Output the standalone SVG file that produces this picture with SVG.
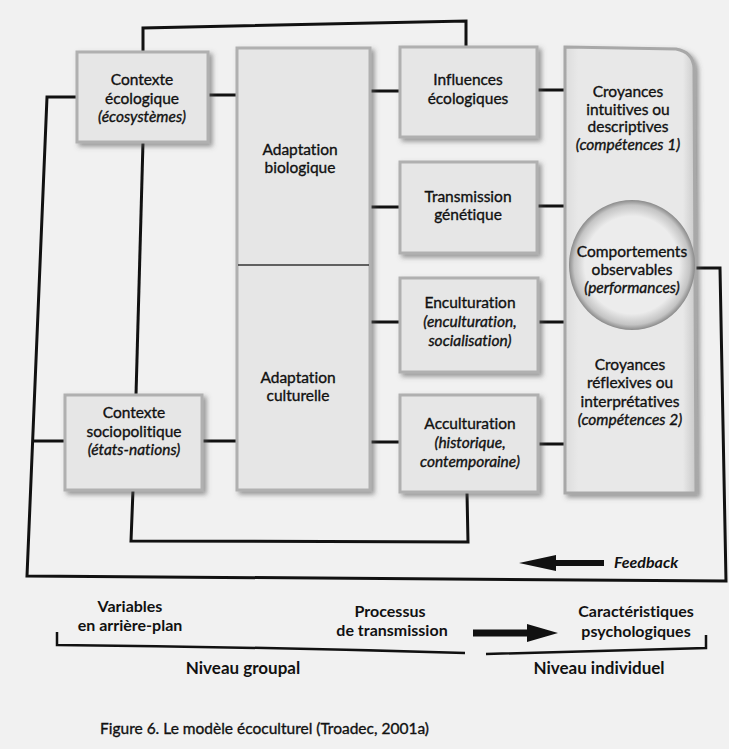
<svg xmlns="http://www.w3.org/2000/svg" width="729" height="749" viewBox="0 0 729 749">
<defs>
<filter id="sh" x="-10%" y="-10%" width="125%" height="125%">
<feGaussianBlur in="SourceAlpha" stdDeviation="2.5"/>
<feOffset dx="3" dy="3" result="b"/>
<feFlood flood-color="#555" flood-opacity="0.6"/>
<feComposite in2="b" operator="in" result="s"/>
<feMerge><feMergeNode in="s"/><feMergeNode in="SourceGraphic"/></feMerge>
</filter>
<radialGradient id="cg" cx="0.5" cy="0.5" r="0.5">
<stop offset="0.75" stop-color="#ececec"/>
<stop offset="0.92" stop-color="#c4c4c4"/>
<stop offset="1" stop-color="#8a8a8a"/>
</radialGradient>
<linearGradient id="colg" x1="0" y1="0" x2="1" y2="0">
<stop offset="0" stop-color="#dcdcdc"/>
<stop offset="0.1" stop-color="#e8e8e8"/>
<stop offset="0.9" stop-color="#e8e8e8"/>
<stop offset="1" stop-color="#c8c8c8"/>
</linearGradient>
</defs>
<style>
.box{fill:#e6e6e6;stroke:#b0b0b0;stroke-width:3;filter:url(#sh)}
.ln{fill:none;stroke:#111;stroke-width:3;stroke-linejoin:miter}
.br{fill:none;stroke:#111;stroke-width:2.5}
text{font-family:Lato,"Open Sans","Liberation Sans",sans-serif;fill:#111;text-anchor:middle;font-variant-ligatures:none}
.t{font-size:15.5px;stroke:#111;stroke-width:0.35}
.i{font-style:italic}
.b{font-weight:bold;font-size:16px}
</style>
<rect width="729" height="749" fill="#f1f1f1"/>

<g id="connectors">
<path class="ln" d="M143,52 L143,28 L466,21 L466,47"/>
<path class="ln" d="M77,97 L47,97 L27,576 L726,581 L720,268 L694,268"/>
<path class="ln" d="M65,441 L33,441"/>
<path class="ln" d="M208,95 L237,95"/>
<path class="ln" d="M143,142 L136,395"/>
<path class="ln" d="M202,441 L237,441"/>
<path class="ln" d="M133,490 L131,541 L468,542 L467,493"/>
<path class="ln" d="M370,91 H400 M537,90 H565"/>
<path class="ln" d="M370,207 H400 M537,206 H565"/>
<path class="ln" d="M370,322 H400 M538,322 H565"/>
<path class="ln" d="M370,442 H400 M538,444 H565"/>
</g>

<g id="contexte-ecologique">
<rect class="box" x="77" y="52" width="131" height="90"/>
<text class="t" x="142" y="85">Contexte</text>
<text class="t" x="142" y="104">écologique</text>
<text class="t i" x="142" y="122">(écosystèmes)</text>
</g>

<g id="contexte-sociopolitique">
<rect class="box" x="65" y="395" width="137" height="95"/>
<text class="t" x="134" y="418">Contexte</text>
<text class="t" x="134" y="437">sociopolitique</text>
<text class="t i" x="134" y="455">(états-nations)</text>
</g>

<g id="adaptation">
<rect class="box" x="237" y="48" width="133" height="442"/>
<line x1="238" y1="265" x2="369" y2="265" stroke="#333" stroke-width="1.5"/>
<text class="t" x="300" y="155">Adaptation</text>
<text class="t" x="300" y="173">biologique</text>
<text class="t" x="298" y="383">Adaptation</text>
<text class="t" x="298" y="401">culturelle</text>
</g>

<g id="influences">
<rect class="box" x="400" y="47" width="137" height="90"/>
<text class="t" x="468" y="85">Influences</text>
<text class="t" x="468" y="104">écologiques</text>
</g>

<g id="transmission">
<rect class="box" x="400" y="162" width="137" height="91"/>
<text class="t" x="468" y="202">Transmission</text>
<text class="t" x="468" y="220">génétique</text>
</g>

<g id="enculturation">
<rect class="box" x="400" y="278" width="138" height="94"/>
<text class="t" x="470" y="308">Enculturation</text>
<text class="t i" x="470" y="327">(enculturation,</text>
<text class="t i" x="470" y="346">socialisation)</text>
</g>

<g id="acculturation">
<rect class="box" x="400" y="395" width="138" height="97"/>
<text class="t" x="470" y="429">Acculturation</text>
<text class="t i" x="470" y="448">(historique,</text>
<text class="t i" x="470" y="467">contemporaine)</text>
</g>

<g id="croyances">
<path d="M565,47 L676,49 Q693,52 694,68 L696,493 L565,493 Z" fill="url(#colg)" stroke="#a8a8a8" stroke-width="3" filter="url(#sh)"/>
<text class="t" x="628" y="97">Croyances</text>
<text class="t" x="628" y="115">intuitives ou</text>
<text class="t" x="628" y="132">descriptives</text>
<text class="t i" x="628" y="150">(compétences 1)</text>
<text class="t" x="630" y="370">Croyances</text>
<text class="t" x="630" y="388">réflexives ou</text>
<text class="t" x="630" y="407">interprétatives</text>
<text class="t i" x="630" y="425">(compétences 2)</text>
</g>

<g id="comportements">
<ellipse cx="632" cy="265" rx="63" ry="65" fill="url(#cg)"/>
<text class="t" x="632" y="257">Comportements</text>
<text class="t" x="632" y="275">observables</text>
<text class="t i" x="632" y="293">(performances)</text>
</g>

<g id="feedback">
<path d="M604,560 L556,560 L556,555 L519,563 L556,571 L556,566 L604,566 Z" fill="#111"/>
<text class="b i" x="614" y="568" style="text-anchor:start">Feedback</text>
</g>

<g id="legend">
<text class="b" x="130" y="612">Variables</text>
<text class="b" x="130" y="631">en arrière-plan</text>
<text class="b" x="390" y="617">Processus</text>
<text class="b" x="392" y="636">de transmission</text>
<path d="M473,629.5 L527,629.5 L527,624 L558,633 L527,642 L527,636.5 L473,636.5 Z" fill="#111"/>
<text class="b" x="636" y="617">Caractéristiques</text>
<text class="b" x="636" y="637">psychologiques</text>
<path class="br" d="M57,632 L57,645 Q260,647 465,653"/>
<path class="br" d="M486,654 L706,648 L706,635"/>
<text class="b" x="243" y="674" style="font-size:17px">Niveau groupal</text>
<text class="b" x="599" y="674" style="font-size:17px">Niveau individuel</text>
</g>

<text x="100" y="734" style="text-anchor:start;font-size:15.5px;stroke:#111;stroke-width:0.35">Figure 6. Le modèle écoculturel (Troadec, 2001a)</text>
</svg>
